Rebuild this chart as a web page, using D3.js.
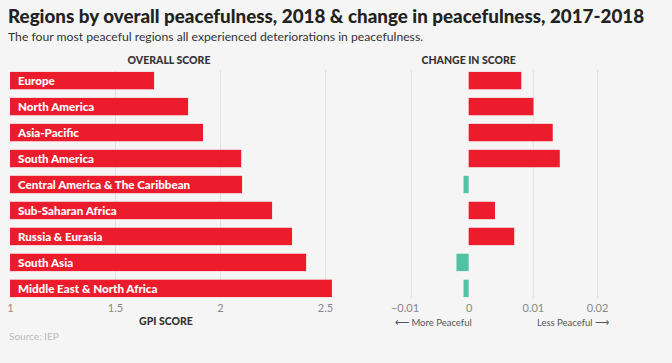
<!DOCTYPE html>
<html>
<head>
<meta charset="utf-8">
<script src="https://cdn.jsdelivr.net/npm/d3@7"></script>
<style>
  body { margin: 0; background: #f5f5f5; }
  svg { display: block; font-family: Lato, "Open Sans", sans-serif; }
</style>
</head>
<body>
<div id="chart"></div>
<script>
var regions = ["Europe", "North America", "Asia-Pacific", "South America",
  "Central America & The Caribbean", "Sub-Saharan Africa", "Russia & Eurasia",
  "South Asia", "Middle East & North Africa"];
var overallScore = [1.686, 1.848, 1.919, 2.101, 2.105, 2.248, 2.343, 2.41, 2.533];
var scoreChange = [0.0082, 0.0101, 0.0131, 0.0142, -0.0008, 0.0041, 0.0071, -0.0019, -0.0008];
var leftTicks = [1, 1.5, 2, 2.5];
var rightTicks = [-0.01, 0, 0.01, 0.02];
var rightGrid = [-0.009, 0.01, 0.02]; // plot edge + gridlines

var red = "#ec1c2d", teal = "#52c2a3";

var svg = d3.select("#chart").append("svg")
    .attr("width", 672)
    .attr("height", 363);

svg.append("text")
    .attr("x", 8).attr("y", 23)
    .style("font-size", "18.8px").style("font-weight", 900).style("fill", "#222")
    .text("Regions by overall peacefulness, 2018 & change in peacefulness, 2017-2018");
svg.append("text")
    .attr("x", 8).attr("y", 41)
    .style("font-size", "12.2px").style("fill", "#333")
    .text("The four most peaceful regions all experienced deteriorations in peacefulness.");

var yScale = d3.scaleBand()
    .domain(regions)
    .range([67.5, 301.5])
    .paddingInner(0.33)
    .paddingOuter(0.17);

// left panel
var x1 = d3.scaleLinear().domain([1, 2.5]).range([10, 325]);

svg.append("g")
    .attr("transform", "translate(0,298)")
    .call(d3.axisBottom(x1).tickValues(leftTicks).tickSize(-228).tickFormat(d3.format("")))
    .call(g => g.select(".domain").remove())
    .call(g => g.selectAll(".tick line").attr("stroke", "#e2e2e2").filter(d => d == 1).remove())
    .call(g => g.selectAll(".tick text").attr("y", 3).attr("dy", "1em").style("font-size", "11px").style("fill", "#888").style("font-family", "Lato, sans-serif"));

svg.selectAll(".lbar")
    .data(regions)
    .enter()
    .append("rect")
    .attr("class", "lbar")
    .attr("x", x1(1))
    .attr("y", d => yScale(d))
    .attr("width", (d, i) => x1(overallScore[i]) - x1(1))
    .attr("height", yScale.bandwidth())
    .style("fill", red);

svg.selectAll(".lname")
    .data(regions)
    .enter()
    .append("text")
    .attr("x", 18)
    .attr("y", d => yScale(d) + yScale.bandwidth() / 2)
    .attr("dy", "0.36em")
    .style("font-size", "11.6px").style("font-weight", 900).style("fill", "#fff")
    .text(d => d);

svg.append("text")
    .attr("x", 169).attr("y", 64)
    .attr("text-anchor", "middle")
    .style("font-size", "10.5px").style("font-weight", 900).style("fill", "#333")
    .text("OVERALL SCORE");
svg.append("text")
    .attr("x", 166).attr("y", 325)
    .attr("text-anchor", "middle")
    .style("font-size", "10.5px").style("font-weight", 900).style("fill", "#333")
    .text("GPI SCORE");
svg.append("text")
    .attr("x", 9).attr("y", 340)
    .style("font-size", "10px").style("fill", "#bbb")
    .text("Source: IEP");

// right panel
var x2 = d3.scaleLinear().domain([-0.01, 0.02]).range([404.5, 597]);

svg.append("g")
    .attr("transform", "translate(0,298)")
    .call(d3.axisBottom(x2).tickValues(rightGrid).tickSize(-228).tickFormat(""))
    .call(g => g.select(".domain").remove())
    .call(g => g.selectAll(".tick line").attr("stroke", "#e2e2e2"));

svg.append("g")
    .attr("transform", "translate(0,298)")
    .call(d3.axisBottom(x2).tickValues(rightTicks).tickSize(0).tickFormat(d3.format("")))
    .call(g => g.select(".domain").remove())
    .call(g => g.selectAll(".tick text").attr("y", 3).attr("dy", "1em").style("font-size", "11px").style("fill", "#888").style("font-family", "Lato, sans-serif"));

svg.selectAll(".rbar")
    .data(regions)
    .enter()
    .append("rect")
    .attr("class", "rbar")
    .attr("x", (d, i) => x2(Math.min(0, scoreChange[i])))
    .attr("y", d => yScale(d))
    .attr("width", (d, i) => Math.abs(x2(scoreChange[i]) - x2(0)))
    .attr("height", yScale.bandwidth())
    .style("fill", (d, i) => scoreChange[i] < 0 ? teal : red);

svg.append("text")
    .attr("x", x2(0)).attr("y", 64)
    .attr("text-anchor", "middle")
    .style("font-size", "10.5px").style("font-weight", 900).style("fill", "#333")
    .text("CHANGE IN SCORE");
svg.append("text")
    .attr("x", 395).attr("y", 326)
    .style("font-size", "9.5px").style("fill", "#555")
    .text("\u27f5 More Peaceful");
svg.append("text")
    .attr("x", 609).attr("y", 326)
    .attr("text-anchor", "end")
    .style("font-size", "9.5px").style("fill", "#555")
    .text("Less Peaceful \u27f6");
</script>
</body>
</html>
